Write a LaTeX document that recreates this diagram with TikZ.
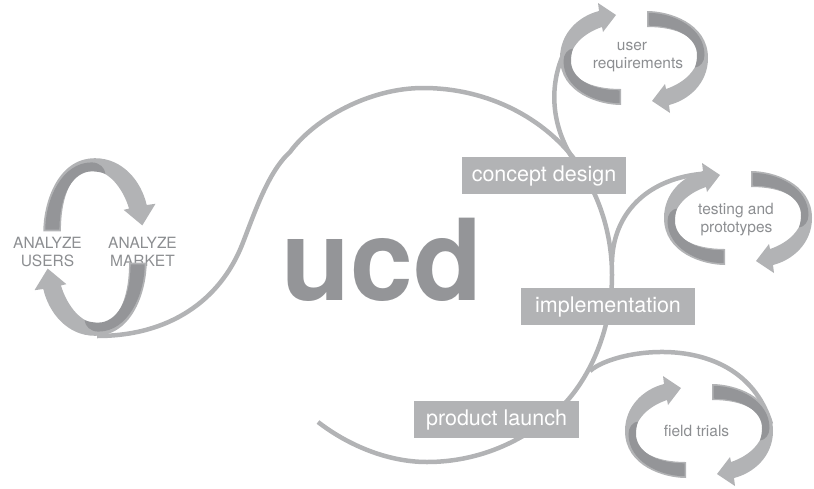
\documentclass[tikz,border=0pt]{standalone}
\usepackage{fontspec}
\setmainfont{TeX Gyre Heros}
\definecolor{lg}{RGB}{178,179,181}
\definecolor{dg}{RGB}{148,149,152}
\definecolor{tg}{RGB}{140,142,145}
\tikzset{
  flow/.style={draw=lg, line width=4.5pt},
  stage/.style={fill=lg, text=white, minimum height=37pt, inner sep=0pt,
    text height=15.5pt, text depth=4.5pt, font=\fontsize{21.5}{24}\selectfont},
  lbl/.style={text=tg, font=\fontsize{15.5}{18}\selectfont, anchor=base, inner sep=0pt},
  arrowband/.pic={
    \fill[lg] (13,-47) .. controls (35,-47) and (74,-35) .. (74,0)
      .. controls (74,25) and (55,42) .. (35,47) -- (36,55) -- (18,43) -- (31,26) -- (32,31)
      .. controls (50,25) and (64,12) .. (64,-3)
      .. controls (64,-20) and (45,-31) .. (13,-31) -- cycle;
    \fill[dg] (14.5,-45.2) .. controls (40,-45) and (70.5,-30) .. (70.5,-3)
      .. controls (70.5,4) and (66,9) .. (61,9.5)
      .. controls (62.5,5) and (63,1) .. (63,-3)
      .. controls (63,-19) and (45,-32.3) .. (14.5,-32.3) -- cycle;
  }
}
\begin{document}
\begin{tikzpicture}[x=1pt,y=-1pt]
\useasboundingbox (0,0) rectangle (814,488);
% main curve points
\coordinate (m0) at (97,336);
\coordinate (m1) at (242,245);
\coordinate (m2) at (290,152);
\coordinate (m3) at (423,88);
\coordinate (m4) at (575,160);
\coordinate (m5) at (612,275);
\coordinate (m6) at (567,401);
\coordinate (m7) at (427,462);
\coordinate (m8) at (318,422);
% junctions and ends
\coordinate (j1) at (573,159);
\coordinate (e1) at (563,55);
\coordinate (j2) at (612,262);
\coordinate (e2) at (700,174);
\coordinate (j3) at (590,371);
\coordinate (e3) at (771,424);
% main curve
\draw[flow] (m0) .. controls (170,336) and (220,300) .. (m1)
  .. controls (255,212) and (268,172) .. (m2)
  .. controls (315,118) and (370,88) .. (m3)
  .. controls (490,88) and (545,120) .. (m4)
  .. controls (600,195) and (612,235) .. (m5)
  .. controls (612,330) and (590,375) .. (m6)
  .. controls (530,440) and (480,462) .. (m7)
  .. controls (385,462) and (345,443) .. (m8);
% branches
\draw[flow] (j1) .. controls (553,128) and (548,90) .. (e1);
\draw[flow] (j2) .. controls (613,215) and (645,180) .. (e2);
\draw[flow] (j3) .. controls (615,348) and (742,328) .. (e3);
% left texts (under the loop)
\node[lbl] (au) at (47.5,248) {ANALYZE};
\node[lbl] (us) at (47.5,266) {USERS};
\node[lbl] (am) at (142.5,248) {ANALYZE};
\node[lbl] (mk) at (142.5,266) {MARKET};
% cycles
\pic[xscale=1.1, yscale=1.2, rotate=90] at (95,247) {arrowband};
\pic[xscale=1.1, yscale=1.2, rotate=270] at (95,247) {arrowband};
\pic at (634,58) {arrowband};
\pic[rotate=180] at (634,58) {arrowband};
\pic at (738,218) {arrowband};
\pic[rotate=180] at (738,218) {arrowband};
\pic at (699,431) {arrowband};
\pic[rotate=180] at (699,431) {arrowband};
% cycle texts
\node[lbl] (ur1) at (632,50.5) {user};
\node[lbl] (ur2) at (638,68) {requirements};
\node[lbl] (tp1) at (736,214) {testing and};
\node[lbl] (tp2) at (736.5,232) {prototypes};
\node[lbl] (ft) at (696.5,436) {field trials};
% stage boxes
\node[stage, minimum width=164pt] (cd) at (544,175.5) {concept design};
\node[stage, minimum width=174pt] (im) at (608,306.5) {implementation};
\node[stage, minimum width=165pt] (pl) at (496.5,419.5) {product launch};
% title
\node[text=dg, font=\fontsize{113}{113}\bfseries\selectfont, anchor=base, inner sep=0pt] (ucd) at (382,300) {ucd};
\end{tikzpicture}
\end{document}
